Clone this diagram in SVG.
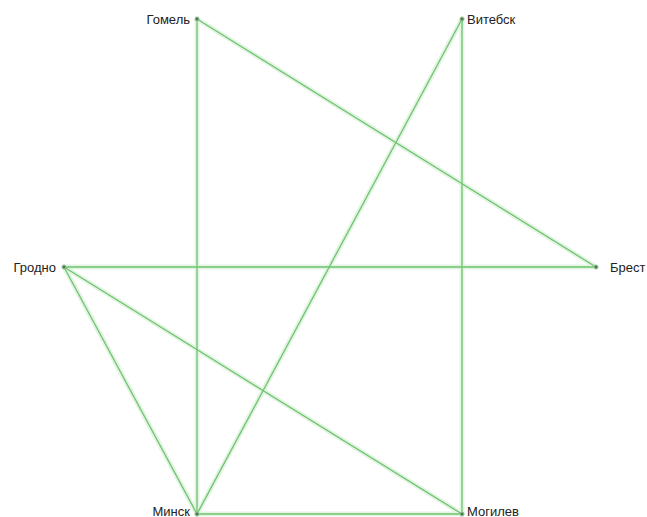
<svg xmlns="http://www.w3.org/2000/svg" width="647" height="517" viewBox="0 0 647 517">
<style>
.halo{stroke:#e4f4e4;stroke-width:5;fill:none;stroke-linecap:round}
.edge{stroke:#6cc46c;stroke-width:1.3;fill:none}
.dot{fill:#4a7a4a;stroke:#9cc09c;stroke-width:1}
.lbl{font-family:"Liberation Sans",Arial,sans-serif;font-size:13px;fill:#222}
</style>
<rect width="647" height="517" fill="#fff"/>
<g id="connectors">
<g>
<line class="halo" x1="197" y1="19" x2="197" y2="514"/>
<line class="halo" x1="197" y1="19" x2="596" y2="267"/>
<line class="halo" x1="462" y1="19" x2="197" y2="514"/>
<line class="halo" x1="462" y1="19" x2="462" y2="514"/>
<line class="halo" x1="64" y1="267" x2="596" y2="267"/>
<line class="halo" x1="64" y1="267" x2="197" y2="514"/>
<line class="halo" x1="64" y1="267" x2="462" y2="514"/>
<line class="halo" x1="197" y1="514" x2="462" y2="514"/>
</g>
<line class="edge" x1="197" y1="19" x2="197" y2="514"/>
<line class="edge" x1="197" y1="19" x2="596" y2="267"/>
<line class="edge" x1="462" y1="19" x2="197" y2="514"/>
<line class="edge" x1="462" y1="19" x2="462" y2="514"/>
<line class="edge" x1="64" y1="267" x2="596" y2="267"/>
<line class="edge" x1="64" y1="267" x2="197" y2="514"/>
<line class="edge" x1="64" y1="267" x2="462" y2="514"/>
<line class="edge" x1="197" y1="514" x2="462" y2="514"/>
</g>
<g id="gomel"><circle class="dot" cx="197" cy="19" r="2"/><text class="lbl" x="190" y="24" text-anchor="end">Гомель</text></g>
<g id="vitebsk"><circle class="dot" cx="462" cy="19" r="2"/><text class="lbl" x="467" y="24">Витебск</text></g>
<g id="grodno"><circle class="dot" cx="64" cy="267" r="2"/><text class="lbl" x="56" y="272" text-anchor="end">Гродно</text></g>
<g id="brest"><circle class="dot" cx="596" cy="267" r="2"/><text class="lbl" x="610" y="272">Брест</text></g>
<g id="minsk"><circle class="dot" cx="197" cy="514" r="2"/><text class="lbl" x="190" y="515.5" text-anchor="end">Минск</text></g>
<g id="mogilev"><circle class="dot" cx="462" cy="514" r="2"/><text class="lbl" x="467" y="515.5">Могилев</text></g>
</svg>
